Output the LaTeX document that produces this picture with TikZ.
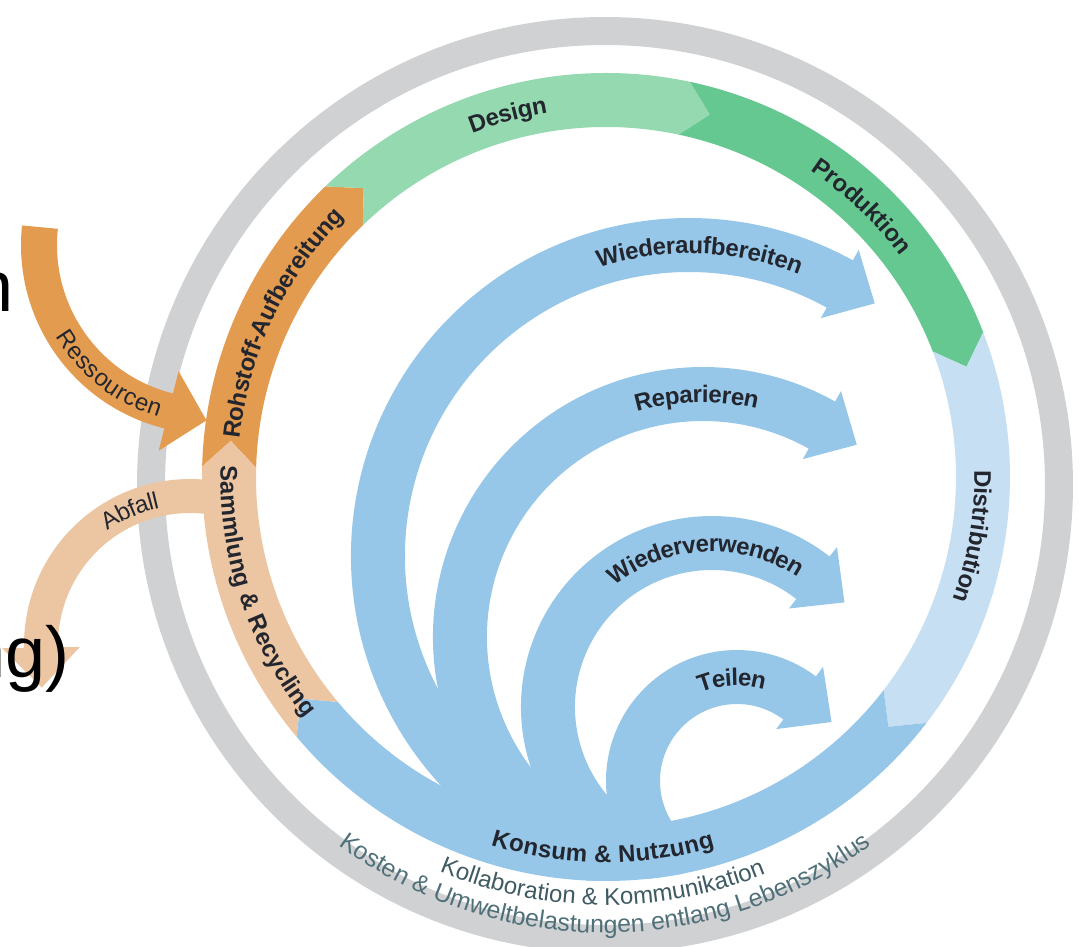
\documentclass[tikz,border=0pt]{standalone}
\usepackage{fontspec}
\setmainfont{Liberation Sans}
\usepackage{xcolor}
\usetikzlibrary{decorations.text}

\definecolor{ringgray}{HTML}{D0D1D3}
\definecolor{rohstoff}{HTML}{E39B50}
\definecolor{sammlung}{HTML}{ECC6A2}
\definecolor{design}{HTML}{95D9B1}
\definecolor{produktion}{HTML}{66C891}
\definecolor{distrib}{HTML}{C7DFF2}
\definecolor{wheel}{HTML}{96C7E9}
\definecolor{ink}{HTML}{23262E}
\definecolor{kosten}{HTML}{507079}
\definecolor{kollab}{HTML}{3E5A62}

\newcommand{\lblfont}{\fontsize{12}{14}\selectfont\bfseries}
\newcommand{\cmtfont}{\fontsize{12}{14}\selectfont}
\newcommand{\kstfont}{\fontsize{12.4}{14}\selectfont}

\begin{document}
\begin{tikzpicture}[x=0.5pt, y=0.5pt,
    backarc/.style = {draw=wheel, line width=27pt},
    ringlbl/.style = {decorate, decoration={text along path, text align=center, raise=-4.3pt, text color=ink}},
    sidelbl/.style = {decorate, decoration={text along path, text align=center, raise=-4.3pt, text color=ink}},
    footlbl/.style = {decorate, decoration={text along path, text align=center}},
    frag/.style = {inner sep=0pt, font=\fontsize{36}{40}\selectfont, text=black}]

    \useasboundingbox (0,0) rectangle (1089,-947);

    \coordinate (grayc) at (605,-485);
    \coordinate (ringc) at (606,-477);
    \coordinate (wa) at (689,-556);
    \coordinate (rep) at (703,-637);
    \coordinate (wv) at (712,-707);
    \coordinate (tei) at (737,-781);
    \coordinate (res) at (210,-245);
    \coordinate (abf) at (190,-645);

    \draw[ringgray, line width=14pt] (grayc) circle[radius=454];

    \begin{scope}[shift={(res)}]
      \draw[rohstoff, line width=18pt] (174:171) arc[start angle=174, end angle=258, radius=171];
      \fill[rohstoff] (256:212) -- ({256+atan(39/171)}:{171/cos(atan(39/171))}) -- (256:130) -- cycle;
      \path[sidelbl, decoration={text={|\cmtfont|Ressourcen}}] (202:171) arc[start angle=202, end angle=262, radius=171];
    \end{scope}

    \begin{scope}[shift={(abf)}]
      \draw[sammlung, line width=17pt] (82:149) arc[start angle=82, end angle=183, radius=149];
      \fill[sammlung] (181:188) -- ({181+atan(40/149)}:{149/cos(atan(40/149))}) -- (181:110) -- cycle;
      \path[sidelbl, decoration={text={|\cmtfont|Abfall}}] (144:149) arc[start angle=144, end angle=84, radius=149];
    \end{scope}

    \begin{scope}[shift={(ringc)}]
      \foreach \a/\b/\col in {178.5/134/rohstoff, 134/78/design, 78/21/produktion, 21/-37.5/distrib, -37.5/-140/wheel, 220/178.5/sammlung}
        \fill[\col] (\a:404) arc[start angle=\a, end angle=\b, radius=404] -- ({\b-4}:377)
          -- (\b:350) arc[start angle=\b, end angle=\a, radius=350] -- ({\a-4}:377) -- cycle;
    \end{scope}

    \begin{scope}
      \clip (ringc) circle[radius=404];
      \foreach \c/\r/\s/\e in {wa/311/255/61, rep/243/250/60.7, wv/164/245/52, tei/104/240/53}
      {
        \begin{scope}[shift={(\c)}]
          \draw[backarc] (\s:\r) arc[start angle=\s, end angle={\e-2}, radius=\r];
          \fill[wheel] ({\e}:{\r+39}) -- ({\e-atan(40/\r)}:{\r/cos(atan(40/\r))}) -- ({\e}:{\r-39}) -- cycle;
        \end{scope}
      }
    \end{scope}

    \begin{scope}[shift={(ringc)}]
      \path[ringlbl, decoration={text={|\lblfont|Rohstoff-Aufbereitung}}] (184.6:377) arc[start angle=184.6, end angle=124.6, radius=377];
      \path[ringlbl, decoration={text={|\lblfont|Design}}] (135.2:377) arc[start angle=135.2, end angle=75.2, radius=377];
      \path[ringlbl, decoration={text={|\lblfont|Produktion}}] (76.6:377) arc[start angle=76.6, end angle=16.6, radius=377];
      \path[ringlbl, decoration={text={|\lblfont|Distribution}}] (20.8:377) arc[start angle=20.8, end angle=-39.2, radius=377];
      \path[ringlbl, decoration={text={|\lblfont|Sammlung {\&} Recycling}}] (168.5:377) arc[start angle=168.5, end angle=228.5, radius=377];
      \path[ringlbl, decoration={text={|\lblfont|Konsum {\&} Nutzung}}] (239.5:377) arc[start angle=239.5, end angle=299.5, radius=377];
      \path[footlbl, decoration={text color=kollab, text={|\cmtfont|Kollaboration {\&} Kommunikation}}] (239.5:428) arc[start angle=239.5, end angle=299.5, radius=428];
    \end{scope}

    \begin{scope}[shift={(grayc)}]
      \path[footlbl, decoration={text color=kosten, text={|\kstfont|Kosten {\&} Umweltbelastungen entlang Lebenszyklus}}] (230:448) arc[start angle=230, end angle=310, radius=448];
    \end{scope}

    \begin{scope}[shift={(wa)}]
      \path[ringlbl, decoration={text={|\lblfont|Wiederaufbereiten}}] (118:311) arc[start angle=118, end angle=58, radius=311];
    \end{scope}
    \begin{scope}[shift={(rep)}]
      \path[ringlbl, decoration={text={|\lblfont|Reparieren}}] (121.5:243) arc[start angle=121.5, end angle=61.5, radius=243];
    \end{scope}
    \begin{scope}[shift={(wv)}]
      \path[ringlbl, decoration={text={|\lblfont|Wiederverwenden}}] (140:164) arc[start angle=140, end angle=45, radius=164];
    \end{scope}
    \begin{scope}[shift={(tei)}]
      \path[ringlbl, decoration={text={|\lblfont|Teilen}}] (143:104) arc[start angle=143, end angle=43, radius=104];
    \end{scope}

    \node[frag, anchor=base east] (frag1) at (14,-312) {n};
    \node[frag, anchor=base east] (frag2) at (70,-677) {ng)};
\end{tikzpicture}
\end{document}
